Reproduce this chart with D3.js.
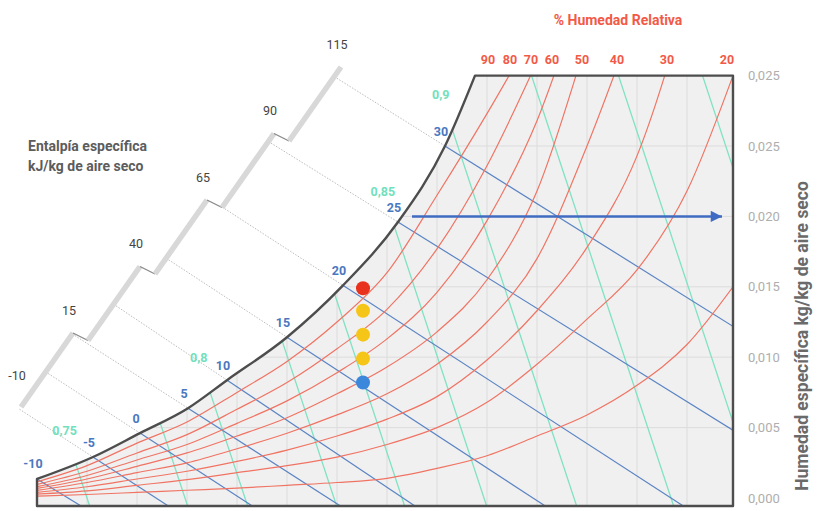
<!DOCTYPE html>
<html>
<head>
<meta charset="utf-8">
<script src="https://cdn.jsdelivr.net/npm/d3@7"></script>
<style>
  body { margin: 0; background: #fff; }
  svg { display: block; font-family: Roboto, "Noto Sans", sans-serif; }
</style>
</head>
<body>
<svg id="chart" width="830" height="511"></svg>
<script>
// dry bulb temperature of the vertical grid lines, °C
const gridTemps = [-5, 0, 5, 10, 15, 20, 25, 30, 35, 40, 45, 50, 55]
// humidity ticks on the right, kg/kg (labels as printed)
const humTicks = [0, 0.005, 0.010, 0.015, 0.020, 0.025, 0.030]
const humTickLabels = ['0,000', '0,005', '0,010', '0,015', '0,020', '0,025', '0,025']

// saturation curve (100 %)
const satTemps = [-10, -4.4, 0.3, 5.1, 9.0, 15.0, 20.6, 26.1, 30.8, 33.8]
const satHum = [0.00135, 0.00291, 0.00461, 0.00638, 0.00837, 0.01142, 0.0151, 0.0196, 0.0250, 0.0300]

// relative humidity curves, humidity at curveTemps
const curveTemps = [-10, -5, 0, 5, 10, 15, 20, 25, 30, 35, 40, 45, 50, 55, 59.6]
const rh80 = [0.00115, 0.0023, 0.0039, 0.0054, 0.0075, 0.0097, 0.0125, 0.0160, 0.0215, 0.0273, 0.0335]
const rh70 = [0.00097, 0.0019, 0.0032, 0.0045, 0.0063, 0.0082, 0.0106, 0.0134, 0.0177, 0.0236, 0.0310]
const rh60 = [0.0008, 0.0016, 0.0027, 0.0038, 0.0053, 0.0069, 0.0089, 0.0113, 0.0146, 0.0197, 0.0268, 0.0370]
const rh50 = [0.00068, 0.00135, 0.00225, 0.0032, 0.0044, 0.0057, 0.0074, 0.0093, 0.0118, 0.0155, 0.0218, 0.0325, 0.0440]
const rh40 = [0.00054, 0.0011, 0.0018, 0.0025, 0.0035, 0.0046, 0.0059, 0.0074, 0.0095, 0.0125, 0.0170, 0.0250, 0.0345]
const rh30 = [0.0004, 0.0008, 0.00135, 0.0019, 0.0026, 0.0034, 0.0044, 0.0056, 0.0072, 0.0098, 0.0133, 0.0178, 0.0243, 0.0353]
const rh20 = [0.00027, 0.0005, 0.0009, 0.0013, 0.0018, 0.0023, 0.0029, 0.0038, 0.0050, 0.0068, 0.0095, 0.0127, 0.0162, 0.0218, 0.0300]
const rh10 = [0.00013, 0.00025, 0.0004, 0.00055, 0.0007, 0.0009, 0.0011, 0.0014, 0.0021, 0.0030, 0.0044, 0.0059, 0.0080, 0.0109, 0.0150]
const rhCurves = [rh80, rh70, rh60, rh50, rh40, rh30, rh20, rh10]

// relative humidity labels along the top edge and the temperature they sit at
const rhLabels = [90, 80, 70, 60, 50, 40, 30, 20]
const rhLabelTemps = [35.1, 37.3, 39.4, 41.5, 44.5, 48.0, 53.0, 59.0]

// wet bulb lines: label, temperature where they leave the saturation curve,
// temperature where they would reach zero humidity
const wetBulbLabels = [-10, -5, 0, 5, 10, 15, 20, 25, 30]
const wetBulbSatTemp = [-10, -4.4, 0.3, 5.1, 9.0, 15.0, 20.6, 26.1, 30.8]
const wetBulbDryTemp = [-6.9, 1.9, 10.3, 19.1, 26.6, 39.6, 53.4, 70.5, 87.0]

// specific volume lines: label, temperature at zero humidity, shift in °C per kg/kg
const volumeLabels = ['0,75', '', '0,8', '', '', '0,85', '0,9', '', '', '']
const volumeDryTemp = [-5.0, 4.8, 10.8, 19.7, 26.5, 34.7, 43.7, 53.4, 62.1, 70.5]
const volumeShift = 465

// enthalpy scale, kJ/kg
const enthalpyTicks = [-10, 15, 40, 65, 90, 115]

// marked states and the arrow
const stateTemp = 22.6
const stateHum = [0.0149, 0.0133, 0.0116, 0.0099, 0.0082]
const arrowHum = 0.020
const arrowTemps = [27.5, 58.5]

// ---- styles
const RED = '#f07464', BLUE = '#5b84c4', GREEN = '#7fe2c2'
const stateFill = ['#e8321e', '#f5c518', '#f5c518', '#f5c518', '#3b87dc']

const svg = d3.select('#chart')
const tMax = 59.6
const x = d3.scaleLinear().domain([-10, tMax]).range([37, 733])
const y = d3.scaleLinear().domain([0, 0.030]).range([498, 75.6])
const yBot = 506

const satAt = t => {
  const i = Math.max(0, Math.min(satTemps.length - 2, d3.bisectRight(satTemps, t) - 1))
  const f = (t - satTemps[i]) / (satTemps[i + 1] - satTemps[i])
  return satHum[i] * Math.pow(satHum[i + 1] / satHum[i], f)
}

const curve = d3.line().x(d => x(d[0])).y(d => y(d[1])).curve(d3.curveMonotoneX)
const satPts = satTemps.map((t, i) => [t, satHum[i]])
const satPath = curve(satPts)
const areaPath = `M${x(-10)},${yBot}L` + satPath.slice(1) +
  `L${x(tMax)},${y(0.03)}L${x(tMax)},${yBot}Z`

svg.append('defs').append('clipPath').attr('id', 'plot')
  .append('path').attr('d', areaPath)

// ---- enthalpy scale (staircase of bars)
const scaleOrigin = [21, 407], segVec = [52, -74], tickVec = [15, 7.5]
const segStart = k => [scaleOrigin[0] + k * (segVec[0] + tickVec[0]), scaleOrigin[1] + k * (segVec[1] + tickVec[1])]
const segEnd = k => { const a = segStart(k); return [a[0] + segVec[0], a[1] + segVec[1]] }
const nSeg = enthalpyTicks.length - 1

const scaleG = svg.append('g')

// wet bulb line geometry in pixels
const wb = wetBulbLabels.map((lab, i) => {
  const p1 = [x(wetBulbSatTemp[i]), y(satAt(wetBulbSatTemp[i]))]
  const p2 = [x(wetBulbDryTemp[i]), y(0)]
  return { lab, p1, d: [p2[0] - p1[0], p2[1] - p1[1]] }
})

// dotted continuation from the saturation curve back to the scale
function hitScale (p, d) {
  let best = null
  d3.range(nSeg).forEach(k => {
    const A = segStart(k)
    const det = -segVec[0] * d[1] + segVec[1] * d[0]
    const rx = p[0] - A[0], ry = p[1] - A[1]
    const a = (-rx * d[1] + ry * d[0]) / det
    const s = (segVec[0] * ry - segVec[1] * rx) / det
    if (s <= 0) return
    const score = a < 0 ? -a : a > 1 ? a - 1 : 0
    if (!best || score < best.score) best = { score, pt: [A[0] + a * segVec[0], A[1] + a * segVec[1]] }
  })
  return best && best.score < 0.2 ? best.pt : null
}

wb.forEach(l => {
  const pt = hitScale(l.p1, [-l.d[0], -l.d[1]])
  if (!pt) return
  scaleG.append('line')
    .attr('x1', pt[0]).attr('y1', pt[1]).attr('x2', l.p1[0]).attr('y2', l.p1[1])
    .attr('stroke', '#b4b4b4').attr('stroke-width', 0.9).attr('stroke-dasharray', '1.5,1.5')
})

d3.range(nSeg).forEach(k => {
  const a = segStart(k), b = segEnd(k)
  scaleG.append('line').attr('x1', a[0]).attr('y1', a[1]).attr('x2', b[0]).attr('y2', b[1])
    .attr('stroke', '#d8d8d8').attr('stroke-width', 5.5)
  if (k < nSeg - 1) {
    const c = segStart(k + 1)
    scaleG.append('line').attr('x1', b[0]).attr('y1', b[1]).attr('x2', c[0]).attr('y2', c[1])
      .attr('stroke', '#8a8a8a').attr('stroke-width', 1.3)
  }
})

scaleG.selectAll('text.h').data(enthalpyTicks).join('text')
  .attr('x', (d, i) => (i === 0 ? segStart(0) : segEnd(i - 1))[0] - 4)
  .attr('y', (d, i) => (i === 0 ? segStart(0) : segEnd(i - 1))[1] - (i === 0 ? 32 : 23))
  .attr('text-anchor', 'middle').attr('dominant-baseline', 'central')
  .attr('font-size', 12.5).attr('fill', '#444').text(d => d)

svg.append('text').attr('x', 28).attr('y', 151)
  .attr('font-size', 14).attr('font-weight', 'bold').attr('fill', '#5c5c5c')
  .text('Entalpía específica')
svg.append('text').attr('x', 28).attr('y', 171)
  .attr('font-size', 14).attr('font-weight', 'bold').attr('fill', '#5c5c5c')
  .text('kJ/kg de aire seco')

// ---- plot area
svg.append('path').attr('d', areaPath).attr('fill', '#f0f0f0')

const plot = svg.append('g').attr('clip-path', 'url(#plot)')

plot.selectAll('line.vg').data(gridTemps).join('line')
  .attr('x1', d => x(d)).attr('x2', d => x(d)).attr('y1', y(0.03)).attr('y2', yBot)
  .attr('stroke', '#dcdcdc').attr('stroke-width', 1)
plot.selectAll('line.hg').data(humTicks.slice(1, -1)).join('line')
  .attr('x1', x(-10)).attr('x2', x(tMax)).attr('y1', d => y(d)).attr('y2', d => y(d))
  .attr('stroke', '#dcdcdc').attr('stroke-width', 1)

// specific volume lines
const volLine = t0 => [[t0 + volumeShift * 0.002, -0.002], [t0 - volumeShift * 0.04, 0.04]]
plot.selectAll('path.vol').data(volumeDryTemp).join('path')
  .attr('d', t0 => d3.line().x(d => x(d[0])).y(d => y(d[1]))(volLine(t0)))
  .attr('fill', 'none').attr('stroke', GREEN).attr('stroke-width', 1.3)

// wet bulb lines
plot.selectAll('line.wb').data(wb).join('line')
  .attr('x1', l => l.p1[0] - 0.05 * l.d[0]).attr('y1', l => l.p1[1] - 0.05 * l.d[1])
  .attr('x2', l => l.p1[0] + 3 * l.d[0]).attr('y2', l => l.p1[1] + 3 * l.d[1])
  .attr('stroke', BLUE).attr('stroke-width', 1.2)

// relative humidity curves
plot.selectAll('path.rh').data(rhCurves).join('path')
  .attr('d', arr => curve(arr.map((w, i) => [curveTemps[i], w])))
  .attr('fill', 'none').attr('stroke', RED).attr('stroke-width', 1.2)

// ---- border
svg.append('path').attr('d', areaPath).attr('fill', 'none')
  .attr('stroke', '#4d4d4d').attr('stroke-width', 2.4).attr('stroke-linejoin', 'round')

// ---- labels
svg.selectAll('text.wb').data(wb).join('text')
  .attr('x', l => l.p1[0] - 4).attr('y', l => l.p1[1] - 15)
  .attr('text-anchor', 'middle').attr('dominant-baseline', 'central')
  .attr('font-size', 12.5).attr('font-weight', 'bold').attr('fill', '#4a78c0')
  .text(l => l.lab)

// junction of a volume line with saturation
const volJunction = t0 => {
  let lo = 0, hi = 0.05
  for (let n = 0; n < 40; n++) {
    const m = (lo + hi) / 2
    if (satAt(t0 - volumeShift * m) > m) lo = m; else hi = m
  }
  return lo
}
volumeDryTemp.forEach((t0, i) => {
  if (!volumeLabels[i]) return
  const wl = volJunction(t0) + 0.0025
  svg.append('text').attr('x', x(t0 - volumeShift * wl)).attr('y', y(wl))
    .attr('text-anchor', 'middle').attr('dominant-baseline', 'central')
    .attr('font-size', 12.5).attr('font-weight', 'bold').attr('fill', '#72dfbd')
    .text(volumeLabels[i])
})

// RH labels above the top edge
svg.selectAll('text.rh').data(rhLabels).join('text')
  .attr('x', (d, i) => x(rhLabelTemps[i])).attr('y', 64)
  .attr('text-anchor', 'middle').attr('font-size', 12.5).attr('font-weight', 'bold')
  .attr('fill', '#f25a48').text(d => d)
svg.append('text').attr('x', 618).attr('y', 25).attr('text-anchor', 'middle')
  .attr('font-size', 14).attr('font-weight', 'bold').attr('fill', '#f25a48')
  .text('% Humedad Relativa')

// right axis
const axis = d3.axisRight(y).tickValues(humTicks).tickSize(0).tickPadding(15)
  .tickFormat((d, i) => humTickLabels[i])
const ax = svg.append('g').attr('transform', `translate(${x(tMax)},0)`).call(axis)
ax.select('.domain').remove()
ax.selectAll('text').attr('font-size', 13).attr('fill', '#aeaeae')
  .attr('font-family', 'Roboto, sans-serif')

svg.append('text').attr('transform', 'translate(808,336) rotate(-90)')
  .attr('text-anchor', 'middle').attr('font-size', 17.5).attr('font-weight', 'bold')
  .attr('fill', '#6a6a6a').text('Humedad específica kg/kg de aire seco')

// ---- arrow and states
svg.append('defs').append('marker').attr('id', 'head')
  .attr('viewBox', '0 0 10 10').attr('refX', 10).attr('refY', 5)
  .attr('markerWidth', 6.5).attr('markerHeight', 4.5).attr('orient', 'auto')
  .attr('markerUnits', 'strokeWidth')
  .append('path').attr('d', 'M0,0L10,5L0,10Z').attr('fill', '#3f6cc2')
svg.append('line').attr('x1', x(arrowTemps[0])).attr('x2', x(arrowTemps[1]))
  .attr('y1', y(arrowHum)).attr('y2', y(arrowHum))
  .attr('stroke', '#3f6cc2').attr('stroke-width', 2.5).attr('marker-end', 'url(#head)')

svg.selectAll('circle.state').data(stateHum).join('circle')
  .attr('cx', x(stateTemp)).attr('cy', d => y(d)).attr('r', 7)
  .attr('fill', (d, i) => stateFill[i])
</script>
</body>
</html>
